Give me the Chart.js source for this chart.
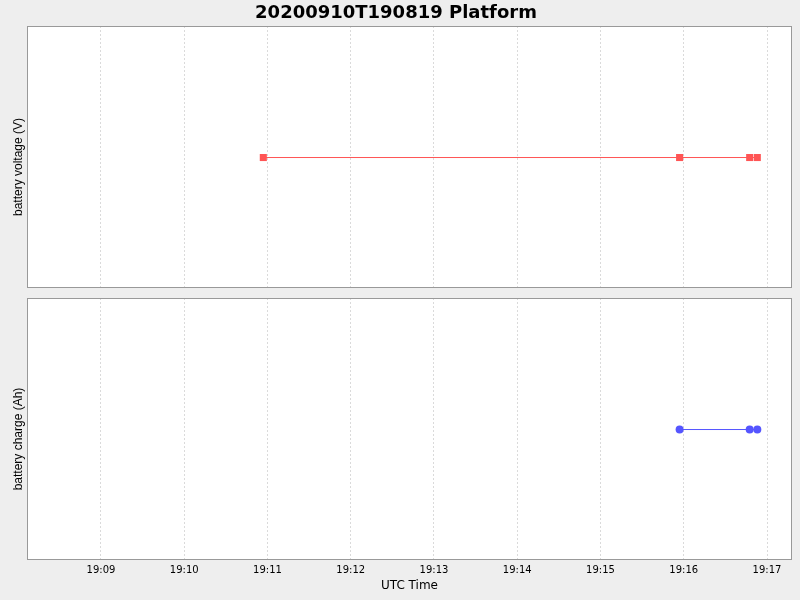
<!doctype html>
<html>
<head>
	<title>Platform</title>
	<script src="https://cdn.jsdelivr.net/npm/chart.js@4.4.1"></script>
	<style>
	* { margin: 0; padding: 0; }
	body { background: #eeeeee; width: 800px; height: 600px; overflow: hidden; }
	.box { position: absolute; left: 0; width: 800px; }
	#topBox { top: 0; height: 298px; }
	#botBox { top: 298px; height: 302px; }
	</style>
</head>
<body>
	<div class="box" id="topBox"><canvas id="canvas_voltage"></canvas></div>
	<div class="box" id="botBox"><canvas id="canvas_charge"></canvas></div>

<script type="text/javascript">
	// data
	var voltageTimes = ['19:10:57', '19:15:57', '19:16:47.5', '19:16:53'];
	var voltageValues = [0, 0, 0, 0];
	var chargeTimes = ['19:15:57', '19:16:47.5', '19:16:53'];
	var chargeValues = [0, 0, 0];
	var tickLabels = ['19:09', '19:10', '19:11', '19:12', '19:13', '19:14', '19:15', '19:16', '19:17'];
	var axisMin = '19:08:06.7';
	var axisMax = '19:17:18';

	function toSec(t) {
		var p = t.split(':');
		return (+p[0]) * 3600 + (+p[1]) * 60 + (p.length > 2 ? parseFloat(p[2]) : 0);
	}
	function fmt(v) {
		var h = Math.floor(v / 3600), m = Math.round((v - h * 3600) / 60);
		return h + ':' + (m < 10 ? '0' : '') + m;
	}
	function points(times, values) {
		return times.map(function(t, i) { return {x: toSec(t), y: values[i]}; });
	}

	// white plot background and grey frame
	var frame = {
		id: 'frame',
		beforeDraw: function(chart) {
			var a = chart.chartArea, ctx = chart.ctx;
			ctx.save();
			ctx.fillStyle = '#ffffff';
			ctx.fillRect(a.left, a.top, a.right - a.left, a.bottom - a.top);
			ctx.restore();
		},
		afterDraw: function(chart) {
			var a = chart.chartArea, ctx = chart.ctx;
			ctx.save();
			ctx.strokeStyle = '#999999';
			ctx.lineWidth = 1;
			ctx.strokeRect(Math.round(a.left) + 0.5, Math.round(a.top) + 0.5, Math.round(a.right - a.left) - 1, Math.round(a.bottom - a.top) - 1);
			ctx.restore();
		}
	};

	function xScale(showLabels) {
		return {
			type: 'linear',
			min: toSec(axisMin),
			max: toSec(axisMax),
			afterBuildTicks: function(scale) {
				scale.ticks = tickLabels.map(function(t) { return {value: toSec(t)}; });
			},
			afterFit: function(scale) {
				scale.height = showLabels ? 40 : 10;
			},
			grid: {
				color: '#dadada',
				drawTicks: false,
			},
			border: { display: false, dash: [2, 2] },
			ticks: {
				display: showLabels,
				padding: 4,
				color: '#000000',
				font: { family: 'DejaVu Sans', size: 10 },
				callback: function(value) { return fmt(value); }
			},
			title: {
				display: showLabels,
				text: 'UTC Time',
				color: '#000000',
				font: { family: 'DejaVu Sans', size: 12 },
				padding: { top: 0, bottom: 7 }
			}
		};
	}

	function yScale(label) {
		return {
			// a hair over 1 so the flat line lands on a whole pixel row
			min: -1,
			max: 1.008,
			afterFit: function(scale) { scale.width = 27; },
			grid: { display: false },
			border: { display: false },
			ticks: { display: false },
			title: {
				display: true,
				// trailing spaces push the label a little below the centre, as in the picture
				text: label + '      ',
				color: '#000000',
				font: { family: 'Liberation Sans', size: 12 },
				padding: { top: 11, bottom: 0 }
			}
		};
	}

	var voltage_config = {
		type: 'scatter',
		data: {
			datasets: [{
				label: 'battery voltage',
				data: points(voltageTimes, voltageValues),
				showLine: true,
				borderColor: '#ff5555',
				backgroundColor: '#ff5555',
				borderWidth: 1,
				pointStyle: 'rect',
				pointRadius: 5,
				pointBorderWidth: 0,
			}]
		},
		options: {
			responsive: true,
			maintainAspectRatio: false,
			animation: false,
			layout: { autoPadding: false, padding: { left: 0, right: 8, top: 0, bottom: 0 } },
			scales: {
				x: xScale(false),
				y: yScale('battery voltage (V)')
			},
			plugins: {
				legend: { display: false },
				tooltip: { enabled: false },
				title: {
					display: true,
					text: '20200910T190819 Platform',
					color: '#000000',
					font: { family: 'DejaVu Sans', size: 18, weight: 'bold' },
					padding: { top: 3, bottom: 1.4 }
				}
			}
		},
		plugins: [frame]
	};
	var voltage_Chart = new Chart(document.getElementById('canvas_voltage'), voltage_config);

	var charge_config = {
		type: 'scatter',
		data: {
			datasets: [{
				label: 'battery charge',
				data: points(chargeTimes, chargeValues),
				showLine: true,
				borderColor: '#5555ff',
				backgroundColor: '#5555ff',
				borderWidth: 1,
				pointStyle: 'circle',
				pointRadius: 4,
				pointBorderWidth: 0,
			}]
		},
		options: {
			responsive: true,
			maintainAspectRatio: false,
			animation: false,
			layout: { autoPadding: false, padding: { left: 0, right: 8, top: 0, bottom: 0 } },
			scales: {
				x: xScale(true),
				y: yScale('battery charge (Ah)')
			},
			plugins: {
				legend: { display: false },
				tooltip: { enabled: false }
			}
		},
		plugins: [frame]
	};
	var charge_Chart = new Chart(document.getElementById('canvas_charge'), charge_config);
</script>
</body>
</html>
